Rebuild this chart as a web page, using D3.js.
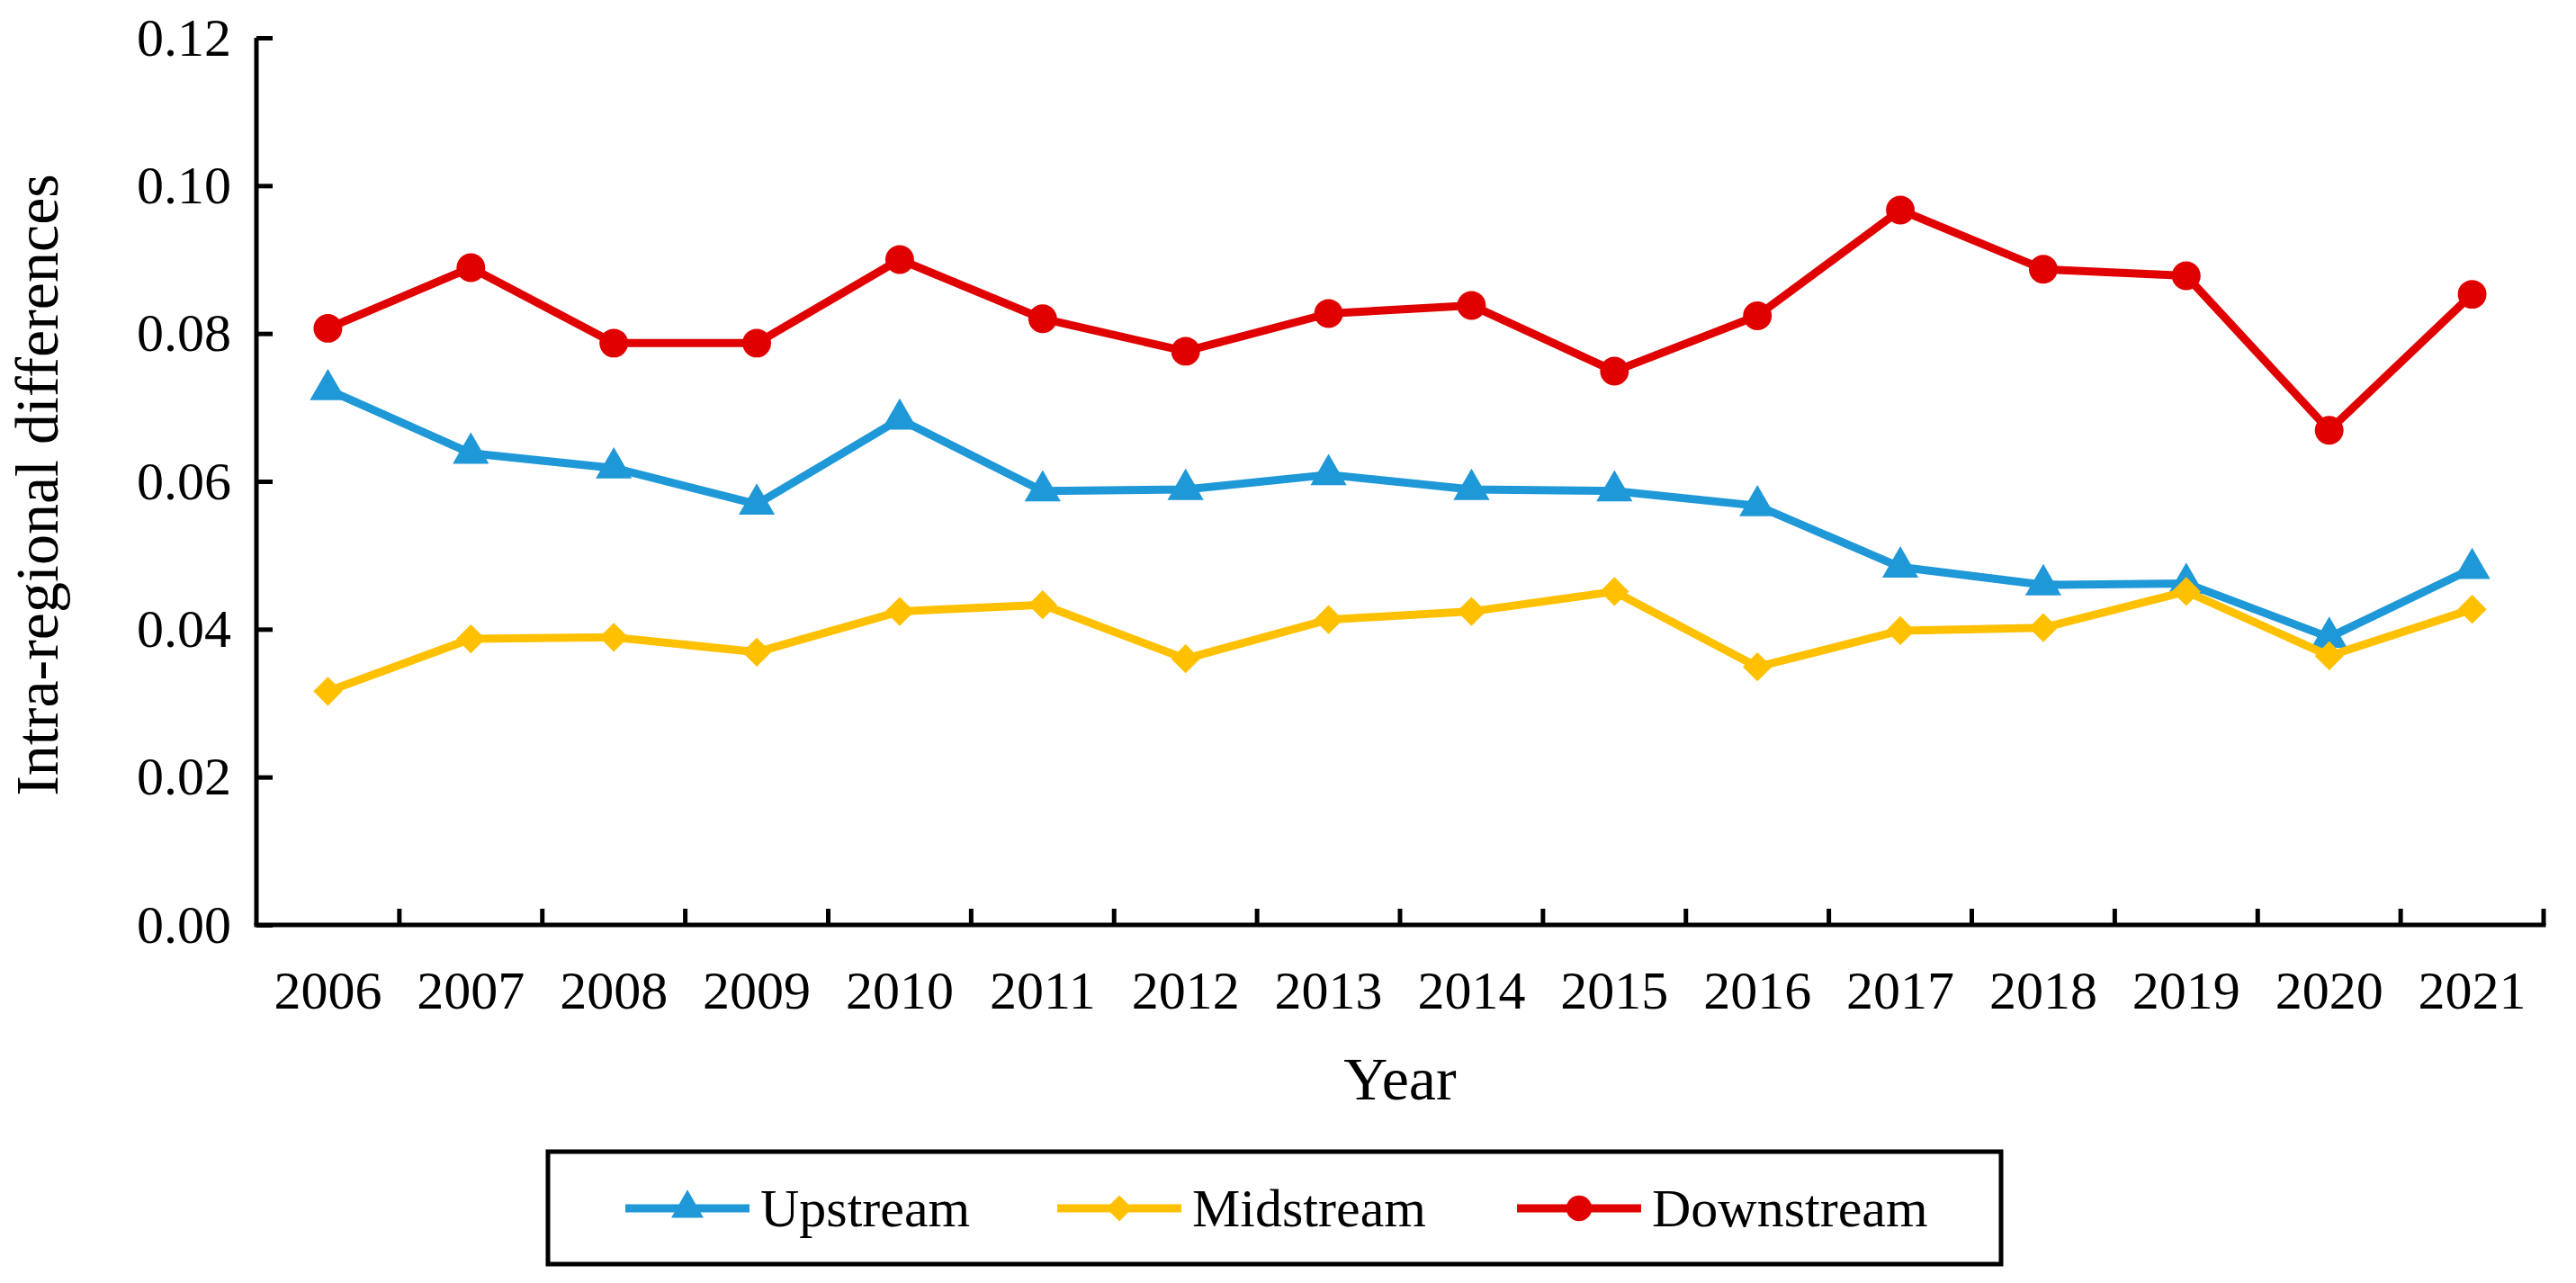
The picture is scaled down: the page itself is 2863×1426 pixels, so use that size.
<html>
<head>
<title>Intra-regional differences</title>
<style>
  body { margin: 0; background: #fff; }
  text { font-family: "Liberation Serif", "Times New Roman", serif; fill: #000; }
</style>
</head>
<body>
<script src="https://cdn.jsdelivr.net/npm/d3@7"></script>
<script>
var years = ["2006","2007","2008","2009","2010","2011","2012","2013","2014","2015","2016","2017","2018","2019","2020","2021"];
var upstream   = [0.0724,0.0638,0.0618,0.0569,0.0684,0.0587,0.0589,0.0609,0.0589,0.0587,0.0567,0.0484,0.0460,0.0462,0.0389,0.0482];
var midstream  = [0.0316,0.0387,0.0389,0.0369,0.0424,0.0433,0.0360,0.0413,0.0424,0.0451,0.0349,0.0398,0.0402,0.0451,0.0364,0.0427];
var downstream = [0.0807,0.0889,0.0787,0.0787,0.0900,0.0820,0.0776,0.0827,0.0838,0.0749,0.0824,0.0967,0.0887,0.0878,0.0669,0.0853];
var yTicks = [0, 0.02, 0.04, 0.06, 0.08, 0.10, 0.12];

// rotated square so the diamond is as wide as it is tall
var squareDiamond = {
  draw: function(ctx, size) {
    var r = Math.sqrt(size / 2);
    ctx.moveTo(0, -r); ctx.lineTo(r, 0); ctx.lineTo(0, r); ctx.lineTo(-r, 0); ctx.closePath();
  }
};

var series = [
  {name: "Upstream",   values: upstream,   color: "#1f98d8", sym: d3.symbolTriangle, size: 700},
  {name: "Midstream",  values: midstream,  color: "#ffc000", sym: squareDiamond,     size: 520},
  {name: "Downstream", values: downstream, color: "#e00000", sym: d3.symbolCircle,   size: 800}
];

var w = 2863, h = 1426;
var mLeft = 285, mRight = 2827, mTop = 42, mBottom = 1028;

var svg = d3.select('body').append('svg')
  .attr('width', w).attr('height', h);

var x = d3.scaleBand().domain(years).range([mLeft, mRight]).padding(0);
var y = d3.scaleLinear().domain([0, 0.12]).range([mBottom, mTop]);

// y axis, ticks inward
var ya = svg.append('g')
  .attr('transform', 'translate(' + mLeft + ',0)')
  .call(d3.axisLeft(y).tickValues(yTicks).tickFormat(d3.format('.2f')).tickSize(-18).tickPadding(28));
ya.select('.domain').attr('d', 'M0,' + mTop + 'V' + mBottom).attr('stroke', '#000').attr('stroke-width', 5);
ya.selectAll('.tick line').attr('stroke', '#000').attr('stroke-width', 5);
ya.selectAll('.tick text').style('font-size', '60px').style('font-family', '"Liberation Serif", serif');

// x axis labels
var xa = svg.append('g')
  .attr('transform', 'translate(0,' + mBottom + ')')
  .call(d3.axisBottom(x).tickSize(0).tickPadding(50));
xa.select('.domain').remove();
xa.selectAll('.tick text').style('font-size', '60px').style('font-family', '"Liberation Serif", serif');

svg.append('line')
  .attr('x1', mLeft - 2.5).attr('x2', mRight + 2.5)
  .attr('y1', mBottom).attr('y2', mBottom)
  .attr('stroke', '#000').attr('stroke-width', 5);

// x ticks at category boundaries
var bounds = years.slice(1).map(d => x(d)).concat([mRight]);
svg.selectAll('.xtick').data(bounds).enter().append('line')
  .attr('class', 'xtick')
  .attr('x1', d => d).attr('x2', d => d)
  .attr('y1', mBottom).attr('y2', mBottom - 18)
  .attr('stroke', '#000').attr('stroke-width', 5);

// axis titles
svg.append('text')
  .attr('x', (mLeft + mRight) / 2).attr('y', 1222)
  .attr('text-anchor', 'middle')
  .style('font-size', '68px')
  .text('Year');

svg.append('text')
  .attr('transform', 'translate(64,' + ((mTop + mBottom) / 2 + 4) + ') rotate(-90)')
  .attr('text-anchor', 'middle')
  .style('font-size', '68px')
  .text('Intra-regional differences');

// lines and markers
var line = d3.line()
  .x((d, i) => x(years[i]) + x.bandwidth() / 2)
  .y(d => y(d));

series.forEach(function(s) {
  svg.append('path')
    .attr('d', line(s.values))
    .attr('fill', 'none')
    .attr('stroke', s.color)
    .attr('stroke-width', 9)
    .attr('stroke-linejoin', 'round');
  svg.selectAll(null).data(s.values).enter().append('path')
    .attr('d', d3.symbol().type(s.sym).size(s.size))
    .attr('transform', (d, i) => 'translate(' + (x(years[i]) + x.bandwidth() / 2) + ',' + y(d) + ')')
    .attr('fill', s.color);
});

// legend
var lg = svg.append('g');
lg.append('rect')
  .attr('x', 609).attr('y', 1280).attr('width', 1615).attr('height', 125)
  .attr('fill', '#fff').attr('stroke', '#000').attr('stroke-width', 5);

var legendX = [695, 1175, 1686];
series.forEach(function(s, i) {
  var g = lg.append('g').attr('transform', 'translate(' + legendX[i] + ',1343)');
  g.append('line').attr('x1', 0).attr('x2', 138).attr('y1', 0).attr('y2', 0)
    .attr('stroke', s.color).attr('stroke-width', 9);
  g.append('path').attr('d', d3.symbol().type(s.sym).size(s.size * 0.8))
    .attr('transform', 'translate(69,0)').attr('fill', s.color);
  g.append('text').attr('x', 150).attr('y', 20)
    .style('font-size', '60px')
    .text(s.name);
});
</script>
</body>
</html>
